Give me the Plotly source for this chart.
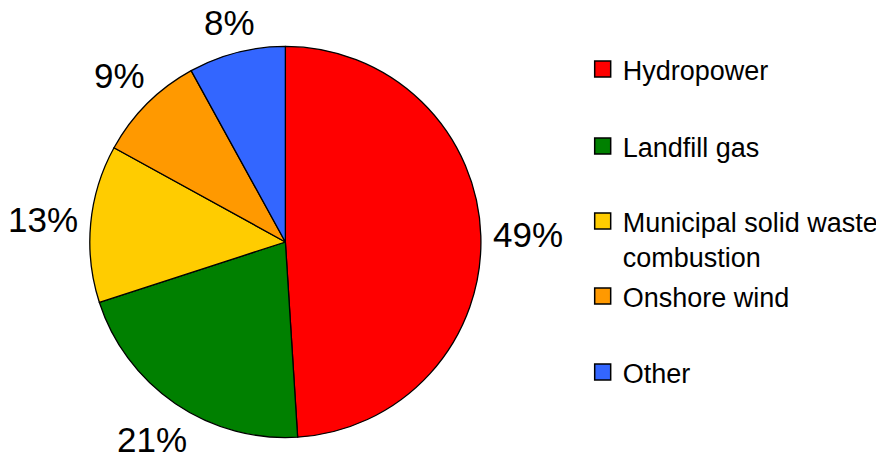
import math
import plotly.graph_objects as go

sources = ["Hydropower", "Landfill gas", "Municipal solid waste<br>combustion", "Onshore wind", "Other"]
shares = [49, 21, 13, 9, 8]
colors = ["#FF0000", "#008000", "#FFCC00", "#FF9900", "#3366FF"]

# the page body has an 8px margin, so the figure is a bit smaller than the window
OFF = 8
W, H = 876, 449
FONT = "Liberation Sans, Arial, sans-serif"
LABEL_SIZE = 35


def px_x(sx):
    return (sx - OFF) / W


def px_y(sy):
    return 1 - (sy - OFF) / H


# pie box in screen pixels
CX, CY, R = 286, 242, 196

fig = go.Figure()
fig.add_trace(
    go.Pie(
        labels=sources,
        values=shares,
        sort=False,
        direction="clockwise",
        rotation=0,
        marker=dict(colors=colors, line=dict(color="black", width=1.3)),
        textinfo="none",
        showlegend=False,
        hoverinfo="label+percent",
        domain=dict(x=[px_x(CX - R), px_x(CX + R)], y=[px_y(CY + R), px_y(CY - R)]),
    )
)

# percent labels just outside each slice, at its middle angle
total = sum(shares)
cum = 0
for v in shares:
    mid = (cum + v / 2) / total * 2 * math.pi
    cum += v
    txt = f"{round(v / total * 100)}%"
    half_w = (0.556 * (len(txt) - 1) + 0.889) * LABEL_SIZE / 2
    half_h = 13
    d = R + 12 + abs(math.sin(mid)) * half_w + abs(math.cos(mid)) * half_h
    fig.add_annotation(
        x=px_x(CX + d * math.sin(mid)),
        y=px_y(CY - d * math.cos(mid)),
        xref="paper",
        yref="paper",
        text=txt,
        showarrow=False,
        xanchor="center",
        yanchor="middle",
        font=dict(family=FONT, size=LABEL_SIZE, color="black"),
    )

# legend entries, one legend each so the slots are evenly spaced
slot_y = [70, 147, 222, 297, 373]
legends = {}
for i, (name, col) in enumerate(zip(sources, colors)):
    key = "legend" if i == 0 else f"legend{i + 1}"
    fig.add_trace(
        go.Scatter(
            x=[None],
            y=[None],
            mode="markers",
            name=name,
            marker=dict(symbol="square", size=16, color=col, line=dict(color="black", width=1.5)),
            legend=key,
            showlegend=True,
        )
    )
    legends[key] = dict(
        x=px_x(584),
        y=px_y(slot_y[i] - 25),
        xanchor="left",
        yanchor="top",
        valign="top",
        bgcolor="rgba(0,0,0,0)",
        font=dict(family=FONT, size=27, color="black"),
    )

fig.update_layout(
    width=W,
    height=H,
    margin=dict(l=0, r=0, t=0, b=0),
    paper_bgcolor="white",
    plot_bgcolor="white",
    xaxis=dict(visible=False),
    yaxis=dict(visible=False),
    **legends,
)

fig.write_html("out.html")
